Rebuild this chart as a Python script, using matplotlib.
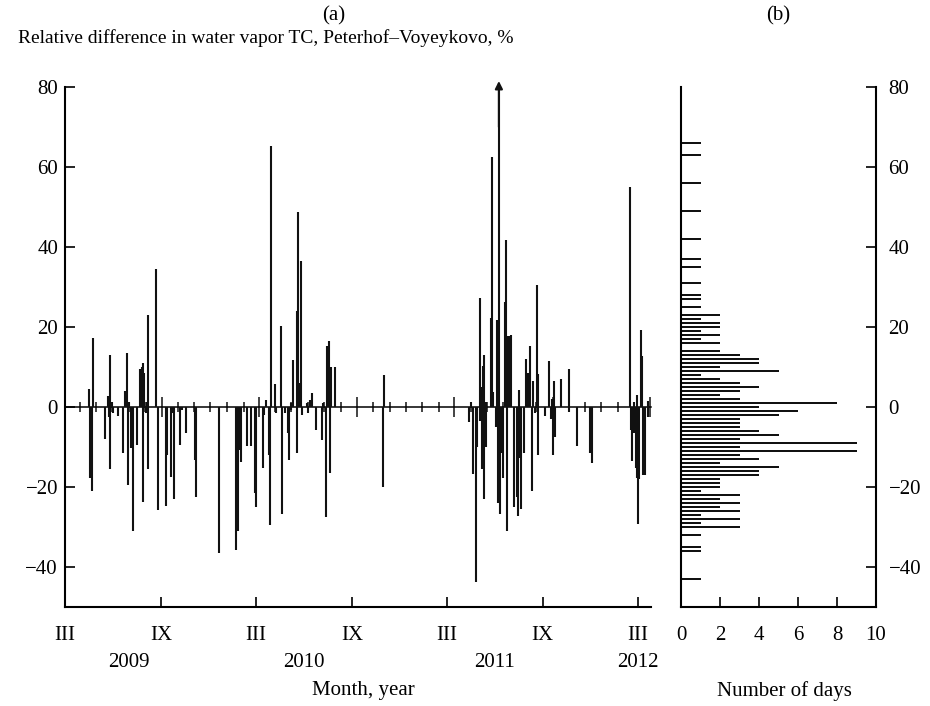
import matplotlib
matplotlib.use('Agg')
import matplotlib.pyplot as plt
import matplotlib.dates as mdates
import numpy as np
import pandas as pd

plt.rcParams['font.family'] = ['Liberation Serif', 'DejaVu Serif']
plt.rcParams['font.size'] = 15

# observation day, counted from 1 March 2009
start = '2009-03-01'
day = [46, 47, 51, 53, 76, 83, 84, 86, 87, 90, 91, 101, 111, 115, 118, 121, 123, 126, 130,
       137, 144, 147, 149, 150, 152, 155, 156, 158, 159, 174, 177, 193, 195, 202, 205, 208,
       220, 224, 231, 248, 251, 295, 327, 330, 333, 337, 349, 355, 363, 365, 378, 381, 384,
       391, 392, 395, 402, 403, 413, 415, 421, 426, 429, 432, 433, 437, 443, 444, 446, 449,
       452, 453, 463, 464, 469, 472, 480, 491, 494, 499, 502, 505, 507, 509, 516, 608, 610,
       773, 776, 780, 786, 788, 793, 794, 797, 798, 799, 801, 802, 805, 806, 814, 817, 819,
       824, 827, 828, 830, 832, 835, 838, 841, 844, 845, 847, 849, 854, 859, 864, 866, 868,
       870, 873, 878, 881, 885, 888, 890, 893, 895, 899, 902, 904, 905, 919, 925, 929, 932,
       934, 935, 937, 949, 964, 965, 979, 1004, 1009, 1081, 1083, 1085, 1088, 1089, 1092,
       1094, 1095, 1097, 1099, 1102, 1104, 1106, 1110, 1115, 1116]
# relative difference Peterhof - Voyeykovo, %
diff = [4.5, -17.7, -21, 17.3, -8, 2.7, -2.5, -15.6, 12.9, 1.2, -1.5, -2.2, -11.4, 4.1, 13.4,
        -19.6, 1.2, -10.3, -30.9, -9.5, 9.5, 9.9, -23.7, 10.9, 8.6, -1.5, 1.2, -15.4, 22.9,
        34.6, -25.8, -24.7, -11.9, -17.4, -1.5, -23, -9.5, -0.8, -6.4, -13.2, -22.6, -36.6,
        -35.8, -30.9, -10.7, -13.7, -9.7, -9.7, -21.4, -24.9, -15.2, -2.1, 1.8, -11.9, -29.5,
        65.2, 5.8, -1.5, 20.2, -26.7, -1.5, -6.6, -13.2, 1.0, -0.8, 11.7, 23.9, -11.5, 48.7,
        5.9, 36.6, -2.0, 1.0, -1.5, 1.8, 3.5, -5.8, -8.2, 1.0, -27.6, 15.2, 16.5, -16.6, 9.9,
        9.9, -20, 8, -3.7, 1.2, -16.7, -43.8, -9.9, -3.5, 27.2, 5.1, -15.5, 10.3, 12.9, -22.9,
        -9.9, 1.2, 22.2, 62.4, 3.7, -4.9, 21.8, -23.9, 95, -26.7, -11.5, -17.7, 26.2, 41.8,
        -30.9, 17.7, 17.7, 18.1, -25.1, -22.6, -27.2, 4.3, -12.8, -25.5, -11.5, 11.9, 8.6,
        8.2, 15.2, -21, 6.6, -1.6, 30.5, -11.9, 8.2, -2.2, 11.5, -2.9, 2.0, -11.9, 6.6, -7.4,
        7.0, 9.5, -1.2, -9.7, -11.4, -14.0, 55.1, -5.8, -13.6, 1.2, -6.6, -15.2, 2.9, -17.7,
        -29.2, -18.1, 19.2, 12.8, -16.9, -16.9, 1.6, -2.5]

# histogram (b): 1 % bins
hist_bin = [66, 63, 56, 49, 42, 37, 35, 31, 28, 27, 25, 23, 22, 21, 20, 19, 18, 17, 16, 14,
            13, 12, 11, 10, 9, 8, 7, 6, 5, 4, 3, 2, 1, 0, -1, -2, -3, -4, -5, -6, -7, -8,
            -9, -10, -11, -12, -13, -14, -15, -16, -17, -18, -19, -20, -21, -22, -23, -24,
            -25, -26, -27, -28, -29, -30, -32, -35, -36, -43]
hist_days = [1, 1, 1, 1, 1, 1, 1, 1, 1, 1, 1, 2, 1, 2, 2, 1, 2, 1, 2, 2,
             3, 4, 4, 2, 5, 1, 2, 3, 4, 3, 2, 3, 8, 4, 6, 5, 3, 3, 3, 4, 5, 3,
             9, 3, 9, 3, 4, 2, 5, 4, 4, 2, 2, 2, 1, 3, 2, 3,
             2, 3, 1, 3, 1, 3, 1, 1, 1, 1]

month_labels = ['III', 'IX', 'III', 'IX', 'III', 'IX', 'III']
year_labels = ['2009', '2010', '2011', '2012']
year_pos = ['2009-07-01', '2010-06-01', '2011-06-01', '2012-03-01']

t0 = mdates.date2num(pd.Timestamp(start))
x = mdates.date2num(pd.Timestamp(start) + pd.to_timedelta(day, unit='D'))
diff = np.array(diff)
ytop, ybot = 80, -50

fig = plt.figure(figsize=(9.3, 7.06), dpi=100)

# ---- (a) time series
ax = fig.add_axes([65 / 930, 99 / 706, 586 / 930, 520 / 706])
ax.vlines(x, 0, diff, color='#111111', lw=1.5)
for xi, v in zip(x, diff):
    if v > ytop:  # off-scale value
        ax.annotate('', xy=(xi, ytop + 1.5), xytext=(xi, ytop - 10),
                    arrowprops=dict(arrowstyle='-|>', color='#111111', lw=1.5,
                                    mutation_scale=11, shrinkA=0, shrinkB=0),
                    annotation_clip=False)
ax.set_ylim(ybot, ytop)
ax.set_xlim(t0, mdates.date2num(pd.Timestamp('2012-03-26')))
ax.spines[['top', 'right']].set_visible(False)
for s in ['left', 'bottom']:
    ax.spines[s].set_linewidth(1.5)
ax.set_yticks(range(-40, 81, 20))
ax.xaxis.remove_overlapping_locs = False
ax.set_xticks(mdates.date2num(pd.date_range(start, '2012-03-01', freq='6MS')), month_labels)
ax.set_xticks(mdates.date2num(pd.to_datetime(year_pos)), year_labels, minor=True)
ax.tick_params(which='major', direction='in', length=7, width=1.2)
ax.tick_params(axis='x', which='major', pad=14)
ax.tick_params(axis='y', pad=5)
ax.tick_params(axis='x', which='minor', length=0, pad=33)
ax.set_xlabel('Month, year')
ax.xaxis.set_label_coords(0.51, -0.142)

# zero line with month ticks (its scale is slightly stretched in the original)
k, off = 1.0241, -3.4
zero = ax.secondary_xaxis((0 - ybot) / (ytop - ybot),
                          functions=(lambda p: t0 + (p - t0 - off) / k,
                                     lambda v: t0 + off + (v - t0) * k))
zero.set_xticks(mdates.date2num(pd.date_range(start, '2012-03-01', freq='6MS')))
zero.set_xticks(mdates.date2num(pd.date_range(start, '2012-03-01', freq='MS')), minor=True)
zero.tick_params(which='both', direction='inout', labelbottom=False, width=1.1, color='#111111')
zero.tick_params(which='major', length=14)
zero.tick_params(which='minor', length=7)
zero.spines['bottom'].set_linewidth(1.1)

fig.text(18 / 930, 1 - 38 / 706, 'Relative difference in water vapor TC, Peterhof–Voyeykovo, %',
         ha='left', va='center', fontsize=14)
fig.text(334 / 930, 1 - 16 / 706, '(a)', ha='center', va='center')
fig.text(778 / 930, 1 - 16 / 706, '(b)', ha='center', va='center')

# ---- (b) histogram
ax2 = fig.add_axes([681 / 930, 99 / 706, 195 / 930, 520 / 706])
ax2.barh(hist_bin, hist_days, height=0.4, color='#111111')
ax2.set_ylim(ybot, ytop)
ax2.set_xlim(0, 10)
ax2.spines['top'].set_visible(False)
for s in ['left', 'right', 'bottom']:
    ax2.spines[s].set_linewidth(1.5)
ax2.yaxis.tick_right()
ax2.set_yticks(range(-40, 81, 20))
ax2.set_xticks(range(0, 11, 2))
ax2.tick_params(direction='in', length=7, width=1.2)
ax2.tick_params(axis='x', pad=14)
ax2.tick_params(axis='y', pad=9)
ax2.set_xlabel('Number of days')
ax2.xaxis.set_label_coords(0.53, -0.142)

fig.savefig('out.png', dpi=100)
